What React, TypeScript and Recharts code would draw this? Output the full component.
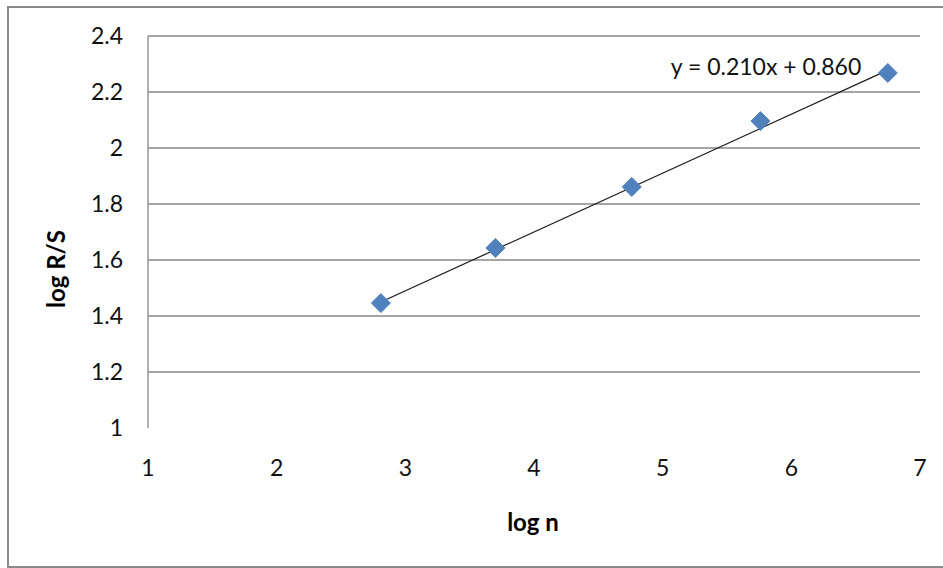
import {
  Label,
  LabelList,
  ReferenceLine,
  Scatter,
  ScatterChart,
  XAxis,
  YAxis,
} from "recharts";

// observed points (log n, log R/S)
const logN = [2.81, 3.7, 4.76, 5.76, 6.75];
const logRS = [1.446, 1.643, 1.861, 2.096, 2.268];

// fitted line endpoints
const trendX = [2.81, 6.75];
const trendY = [1.45, 2.278];
const equationText = "y = 0.210x + 0.860";

const xTicks = [1, 2, 3, 4, 5, 6, 7];
const yTicks = [1, 1.2, 1.4, 1.6, 1.8, 2, 2.2, 2.4];
const gridValues = [1.2, 1.4, 1.6, 1.8, 2, 2.2, 2.4];

const points = logN.map((x, i) => ({ x, y: logRS[i] }));
const trend = trendX.map((x, i) => ({ x, y: trendY[i] }));

const FONT = "Lato, 'Open Sans', sans-serif";
const GRID = "#878787";

function Diamond(props: any) {
  const { cx, cy } = props;
  const r = 9.5;
  return (
    <polygon
      points={`${cx},${cy - r} ${cx + r},${cy} ${cx},${cy + r} ${cx - r},${cy}`}
      fill="#4f81bd"
      stroke="#4f81bd"
      strokeWidth={1}
      strokeLinejoin="round"
    />
  );
}

function EquationLabel(props: any) {
  const { x, y, index } = props;
  if (index !== trend.length - 1) return null;
  return (
    <text
      x={x - 22}
      y={y}
      textAnchor="end"
      dominantBaseline="central"
      fontFamily={FONT}
      fontSize={23}
      fill="#111"
    >
      {equationText}
    </text>
  );
}

export default function App() {
  return (
    <div
      style={{
        position: "fixed",
        left: 0,
        top: 0,
        width: 943,
        height: 568,
        overflow: "hidden",
        background: "#fff",
      }}
    >
      <div
        style={{
          position: "absolute",
          left: 7,
          top: 6,
          width: 960,
          height: 558,
          border: "2px solid #8a8a8a",
        }}
      />
      <div style={{ position: "absolute", left: 0, top: 0 }}>
        <ScatterChart
          width={943}
          height={568}
          margin={{ top: 36, right: 23, left: 0, bottom: 0 }}
        >
          <XAxis
            type="number"
            dataKey="x"
            domain={[1, 7]}
            ticks={xTicks}
            height={140}
            axisLine={false}
            tickLine={false}
            tickSize={0}
            tickMargin={32}
            tick={{ fill: "#111", fontSize: 23, fontFamily: FONT }}
          >
            <Label
              content={() => (
                <text
                  x={533}
                  y={521}
                  textAnchor="middle"
                  dominantBaseline="central"
                  fontFamily={FONT}
                  fontWeight="bold"
                  fontSize={24}
                  fill="#000"
                >
                  log n
                </text>
              )}
            />
          </XAxis>
          <YAxis
            type="number"
            dataKey="y"
            domain={[1, 2.4]}
            ticks={yTicks}
            width={148}
            axisLine={{ stroke: GRID, strokeWidth: 1.3 }}
            tickLine={false}
            tickSize={0}
            tickMargin={25}
            tickFormatter={(v: number) => String(Number(v.toFixed(1)))}
            tick={{ fill: "#111", fontSize: 23, fontFamily: FONT }}
          >
            <Label
              content={() => (
                <text
                  x={55}
                  y={269}
                  transform="rotate(-90 55 269)"
                  textAnchor="middle"
                  dominantBaseline="central"
                  fontFamily={FONT}
                  fontWeight="bold"
                  fontSize={24}
                  fill="#000"
                >
                  log R/S
                </text>
              )}
            />
          </YAxis>
          {gridValues.map((v) => (
            <ReferenceLine key={v} y={v} stroke={GRID} strokeWidth={1.3} />
          ))}
          <Scatter
            data={trend}
            line={{ stroke: "#1a1a1a", strokeWidth: 1.2 }}
            shape={() => null}
            isAnimationActive={false}
          >
            <LabelList dataKey="y" content={<EquationLabel />} />
          </Scatter>
          <Scatter data={points} shape={<Diamond />} isAnimationActive={false} />
        </ScatterChart>
      </div>
    </div>
  );
}
